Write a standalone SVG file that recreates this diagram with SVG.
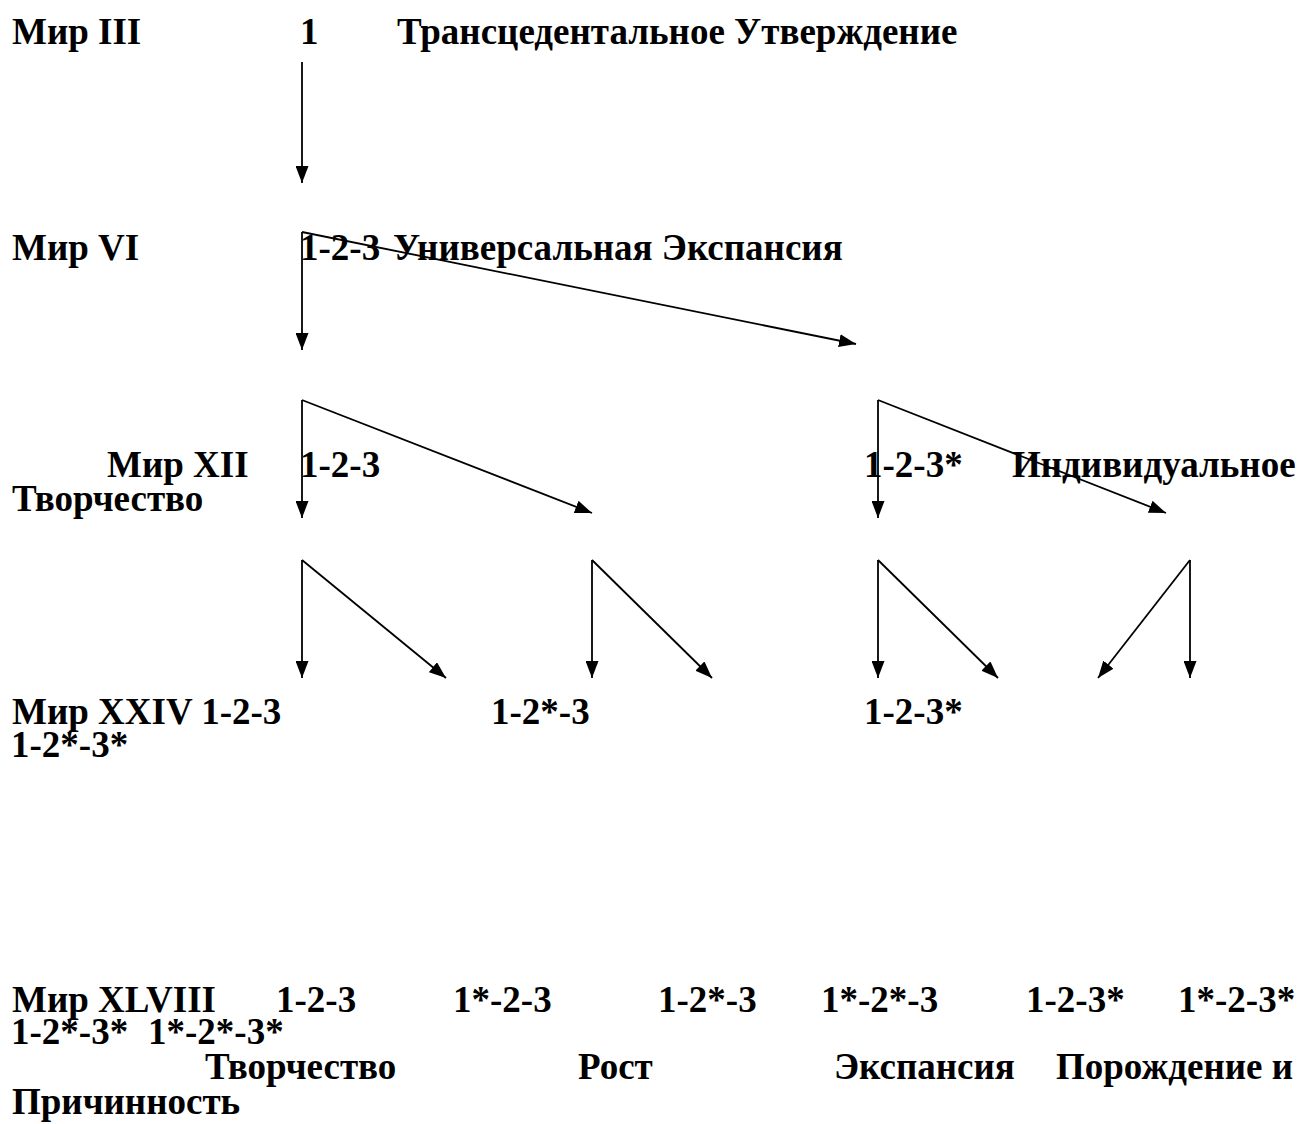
<svg xmlns="http://www.w3.org/2000/svg" width="1303" height="1124" viewBox="0 0 1303 1124">
<defs>
<style>
text{font-family:"Liberation Serif","Times New Roman",serif;font-weight:bold;font-size:37px;fill:#000}
.c line{stroke:#000;stroke-width:1.8;marker-end:url(#ah)}
</style>
<marker id="ah" markerUnits="userSpaceOnUse" markerWidth="18" markerHeight="13" refX="17" refY="6.5" orient="auto">
<path d="M0,0 L17,6.5 L0,13 z" fill="#000"/>
</marker>
</defs>
<rect width="1303" height="1124" fill="#fff"/>
<g id="labels">
<g id="row1">
<text x="12" y="44">Мир III</text>
<text x="300" y="44">1</text>
<text x="397" y="44">Трансцедентальное Утверждение</text>
</g>
<g id="row2">
<text x="12" y="260">Мир VI</text>
<text x="300" y="260">1-2-3</text>
<text x="393" y="260">Универсальная Экспансия</text>
</g>
<g id="row3">
<text x="107" y="477">Мир XII</text>
<text x="300" y="477">1-2-3</text>
<text x="864" y="477">1-2-3*</text>
<text x="1012" y="477">Индивидуальное</text>
<text x="12" y="511">Творчество</text>
</g>
<g id="row4">
<text x="12" y="724">Мир XXIV 1-2-3</text>
<text x="491" y="724">1-2*-3</text>
<text x="864" y="724">1-2-3*</text>
<text x="11" y="757">1-2*-3*</text>
</g>
<g id="row5">
<text x="12" y="1012">Мир XLVIII</text>
<text x="276" y="1012">1-2-3</text>
<text x="453" y="1012">1*-2-3</text>
<text x="658" y="1012">1-2*-3</text>
<text x="821" y="1012">1*-2*-3</text>
<text x="1026" y="1012">1-2-3*</text>
<text x="1178" y="1012">1*-2-3*</text>
<text x="11" y="1044">1-2*-3*</text>
<text x="148" y="1044">1*-2*-3*</text>
</g>
<g id="row6">
<text x="205" y="1079">Творчество</text>
<text x="578" y="1079">Рост</text>
<text x="834" y="1079">Экспансия</text>
<text x="1056" y="1079">Порождение и</text>
<text x="12" y="1114">Причинность</text>
</g>
</g>
<g class="c" id="connectors">
<line x1="302" y1="62" x2="302" y2="183"/>
<line x1="302" y1="232" x2="302" y2="350"/>
<line x1="302" y1="232" x2="856" y2="344"/>
<line x1="302" y1="400" x2="302" y2="518"/>
<line x1="302" y1="400" x2="592" y2="513"/>
<line x1="878" y1="400" x2="878" y2="518"/>
<line x1="878" y1="400" x2="1166" y2="513"/>
<line x1="302" y1="560" x2="302" y2="678"/>
<line x1="302" y1="560" x2="446" y2="678"/>
<line x1="592" y1="560" x2="592" y2="678"/>
<line x1="592" y1="560" x2="712" y2="678"/>
<line x1="878" y1="560" x2="878" y2="678"/>
<line x1="878" y1="560" x2="998" y2="678"/>
<line x1="1190" y1="560" x2="1190" y2="678"/>
<line x1="1190" y1="560" x2="1098" y2="678"/>
</g>
</svg>
